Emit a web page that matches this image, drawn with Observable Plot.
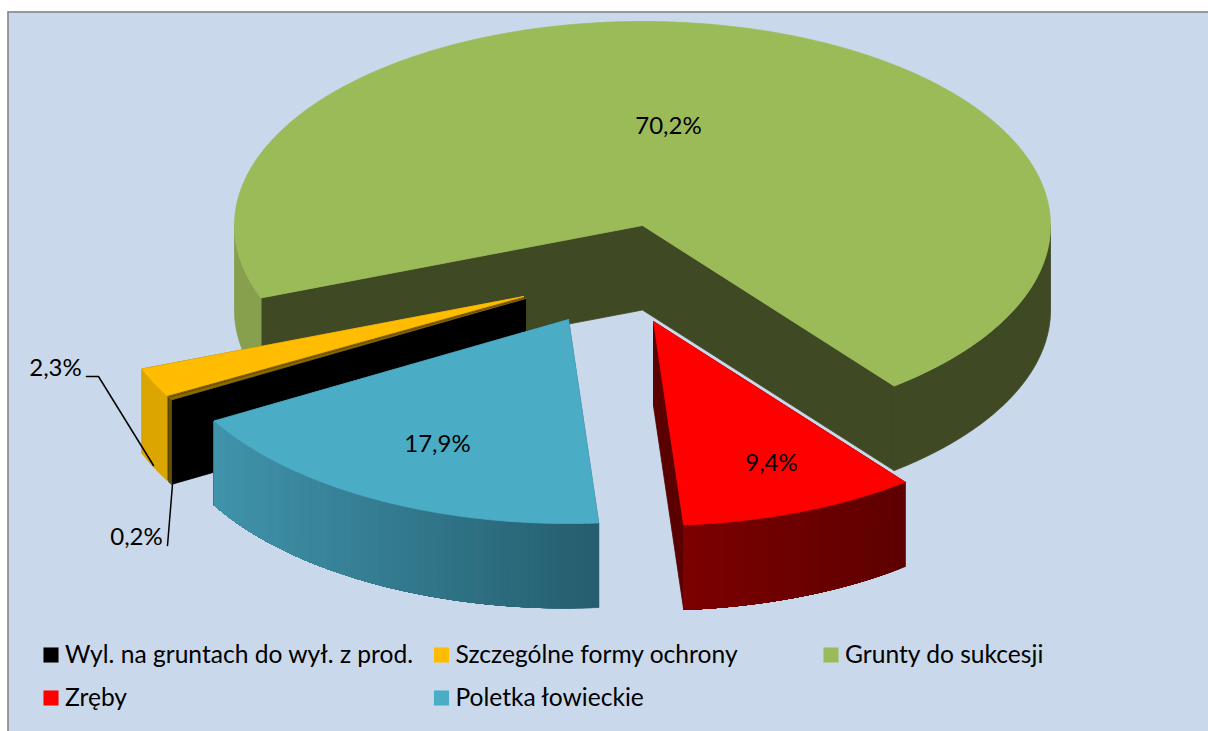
<!DOCTYPE html>
<html>
<head>
<meta charset="utf-8">
<script src="https://cdn.jsdelivr.net/npm/d3@7"></script>
<script src="https://cdn.jsdelivr.net/npm/@observablehq/plot@0.6"></script>
<style>html,body{margin:0;padding:0;background:#fff;overflow:hidden}svg{display:block}</style>
</head>
<body>
<div id="chart"></div>
<script>
// DATA
const categories = ["Wyl. na gruntach do wył. z prod.", "Szczególne formy ochrony", "Grunty do sukcesji", "Zręby", "Poletka łowieckie"];
const shares = [0.2, 2.3, 70.2, 9.4, 17.9];
const shareLabels = ["0,2%", "2,3%", "70,2%", "9,4%", "17,9%"];

// STYLE
const legendColors = ["#000000", "#FFBC00", "#9BBB59", "#FF0000", "#4BACC6"];
const topColors  = ["#8B6A00", "#FFBC00", "#9BBB59", "#FF0000", "#4BACC6"];
const wallColors = ["#000000", "#7F6000", "#3F4923", "#5A0000", "#2A6070"];
const rimFrom    = ["#6B5200", "#DBA600", "#86A04E", "#7C0000", "#4093AB"];
const rimTo      = ["#6B5200", "#DBA600", "#3F4923", "#5E0000", "#255E6E"];
const bg = "#C9D8EB";

// LAYOUT
const W = 1208, H = 731;
const cx = 642, cy = 225, rx = 408, ry = 204, depth = 84.5, firstAngle = 240.2;
const explodeX = [-117, -119, 0, 11, -74];
const explodeY = [73, 71, 0, 96, 94];
const labelX = [136, 55, 668, 771, 437];
const labelY = [537, 368, 126, 463, 444];
const drawOrder = [2, 1, 0, 4, 3];
const legendX = [50.5, 441, 830.5, 50.5, 441];
const legendY = [654.5, 654.5, 654.5, 697.5, 697.5];
const leaderIdx = [0, 0, 1, 1, 1];
const leaderX = [167, 172, 86, 98, 153];
const leaderY = [545, 484, 376, 376, 465];

// GEOMETRY FROM VALUES
const total = d3.sum(shares);
let acc = firstAngle;
const slices = shares.map((v, i) => {
  const a0 = acc, a1 = acc + v / total * 360;
  acc = a1;
  return {i, a0, a1, ox: cx + explodeX[i], oy: cy + explodeY[i]};
});
const pt = (s, deg, drop = 0) => {
  const t = deg * Math.PI / 180;
  return {x: s.ox + rx * Math.sin(t), y: s.oy - ry * Math.cos(t) + drop};
};
const rows = [];
let pid = 0;
function poly(points, color) {
  const id = pid++;
  for (const p of [...points, points[0]]) rows.push({x: p.x, y: p.y, id, color});
}
function arc(s, a0, a1, drop = 0) {
  const n = Math.max(2, Math.ceil((a1 - a0) * 2));
  return d3.range(n + 1).map(k => pt(s, a0 + (a1 - a0) * k / n, drop));
}
// the slice's visible rim runs only where the circle faces the viewer (90..270 deg, mod 360)
function rimRanges(s) {
  const out = [];
  for (const k of [0, 360]) {
    const lo = Math.max(s.a0, 90 + k), hi = Math.min(s.a1, 270 + k);
    if (hi > lo) out.push([lo, hi]);
  }
  return out;
}
for (const i of drawOrder) {
  const s = slices[i];
  const tip = {x: s.ox, y: s.oy}, tipLow = {x: s.ox, y: s.oy + depth};
  for (const a of [s.a0, s.a1]) {
    poly([tip, pt(s, a), pt(s, a, depth), tipLow], wallColors[i]);
  }
  const mix = d3.interpolateRgb(rimFrom[i], rimTo[i]);
  for (const [lo, hi] of rimRanges(s)) {
    if (i === 2) { // flat shading on either side of the big slice
      poly([...arc(s, lo, hi), ...arc(s, lo, hi, depth).reverse()], lo < 360 ? rimFrom[i] : rimTo[i]);
      continue;
    }
    const steps = rimFrom[i] === rimTo[i] ? 1 : Math.ceil(hi - lo);
    const xs = [pt(s, lo).x, pt(s, hi).x];
    for (let k = 0; k < steps; k++) {
      const b0 = lo + (hi - lo) * k / steps;
      const b1 = lo + (hi - lo) * (k + 1) / steps;
      const f = (pt(s, (b0 + b1) / 2).x - d3.min(xs)) / (d3.max(xs) - d3.min(xs));
      // every band reaches to the end of the rim; the next band paints over it, so no seams show
      poly([...arc(s, b0, hi), ...arc(s, b0, hi, depth).reverse()], mix(f));
    }
  }
  poly([tip, ...arc(s, s.a0, s.a1)], topColors[i]);
}

const labelData = [0, 2, 3, 4, 1].map(i => ({x: labelX[i], y: labelY[i], t: shareLabels[i]}));
const legendData = categories.map((c, i) => ({x: legendX[i], y: legendY[i], c, color: legendColors[i]}));
const leaderData = leaderX.map((x, k) => ({x, y: leaderY[k], z: leaderIdx[k]}));
const font = "Lato, Carlito, Calibri, sans-serif";

const chart = Plot.plot({
  width: W, height: H, margin: 0,
  x: {domain: [0, W], range: [0, W], axis: null},
  y: {domain: [0, H], range: [0, H], axis: null},
  style: {background: "#fff", fontFamily: font},
  marks: [
    Plot.rect([{x1: 8, x2: W + 5, y1: 12, y2: H + 5}], {x1: "x1", x2: "x2", y1: "y1", y2: "y2", fill: bg, stroke: "#8A8A8A", strokeWidth: 1.7}),
    Plot.line(rows, {x: "x", y: "y", z: "id", fill: "color", stroke: "color", strokeWidth: 0.8, curve: "linear"}),
    Plot.line(leaderData, {x: "x", y: "y", z: "z", stroke: "#000", strokeWidth: 1.5}),
    Plot.text(labelData, {x: "x", y: "y", text: "t", fill: "#000", fontSize: 24, fontFamily: font}),
    Plot.dot(legendData, {x: "x", y: "y", fill: "color", symbol: "square", r: 8.5, stroke: null}),
    Plot.text(legendData, {x: d => d.x + 14, y: "y", text: "c", fill: "#000", fontSize: 24.6, textAnchor: "start", fontFamily: font})
  ]
});
document.getElementById("chart").appendChild(chart);
</script>
</body>
</html>
